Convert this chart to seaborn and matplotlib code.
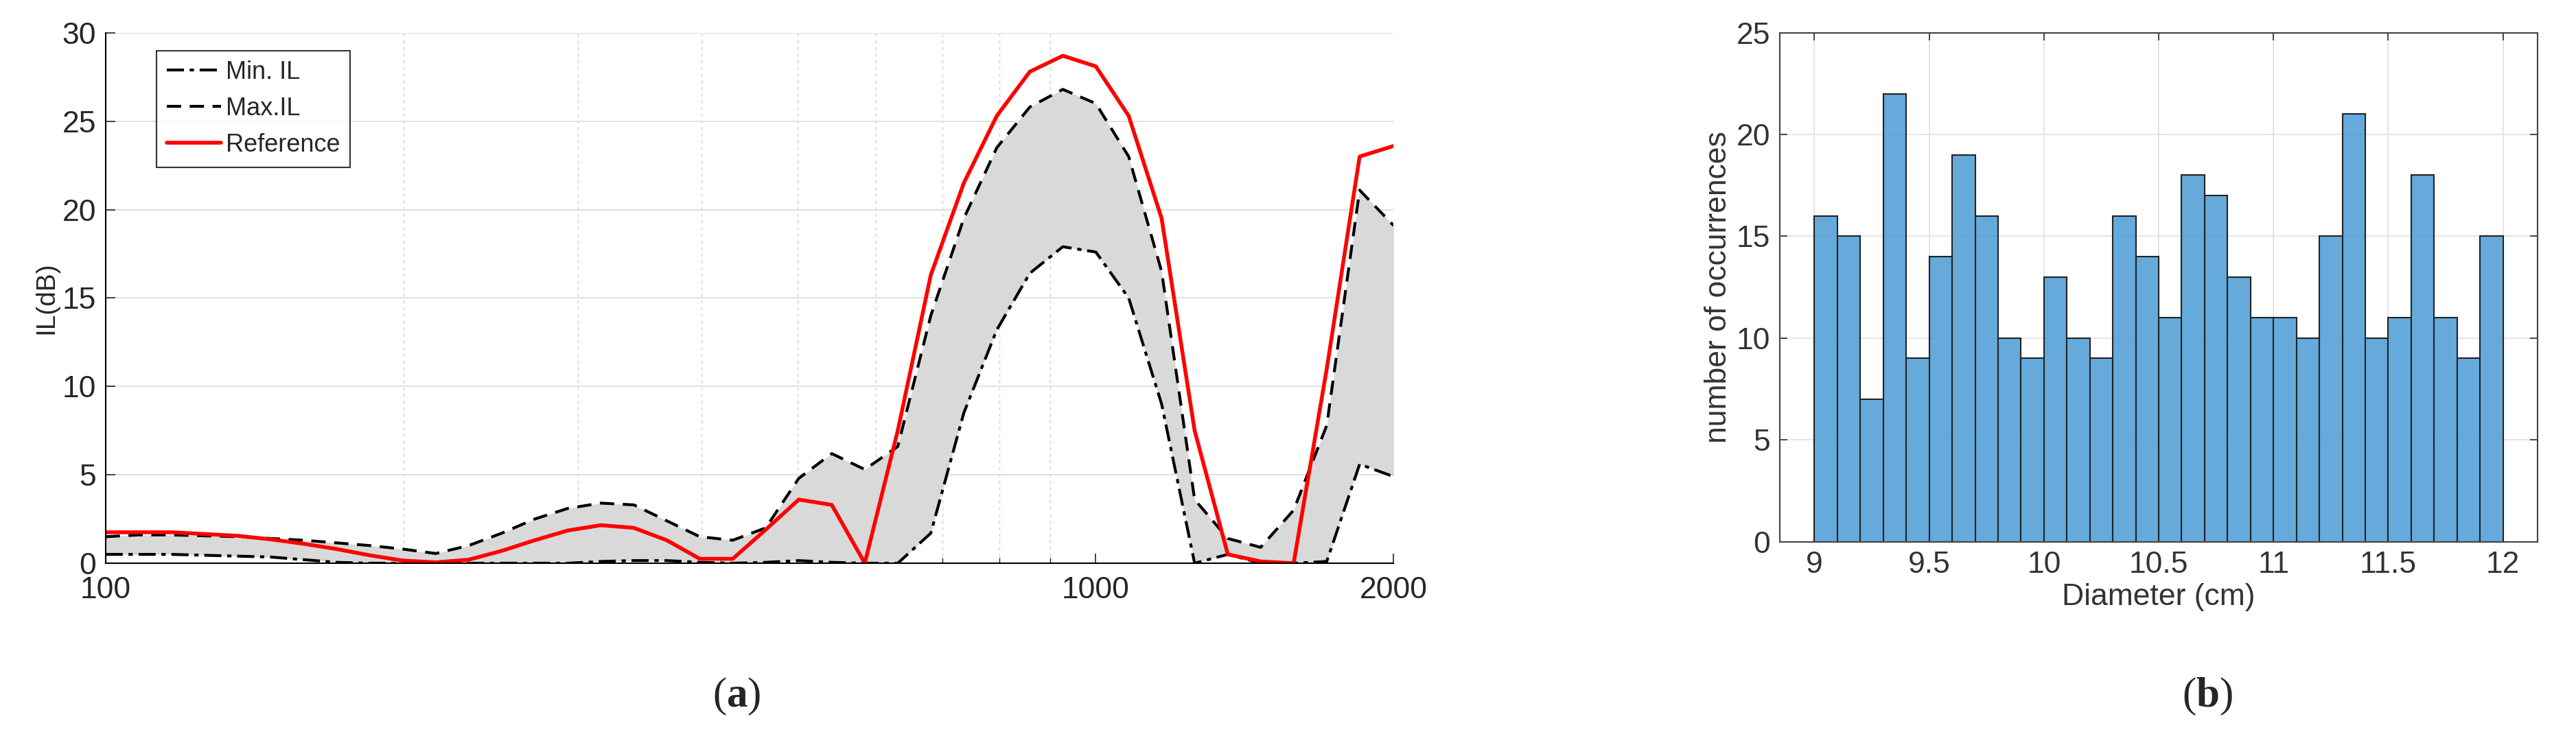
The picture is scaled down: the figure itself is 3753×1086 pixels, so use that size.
import numpy as np
import pandas as pd
import matplotlib
matplotlib.use("Agg")
import matplotlib.pyplot as plt
import seaborn as sns
from matplotlib.ticker import FixedLocator, NullFormatter, LogLocator

freq = [100, 108, 116.6, 125.9, 136, 146.8, 158.5, 171.2, 184.8, 199.6, 215.5, 232.7,
        251.3, 271.3, 293, 316.4, 341.6, 368.8, 398.3, 430, 464.3, 501.4, 541.4, 584.6,
        631.2, 681.6, 736, 794.7, 858.1, 926.6, 1000.5, 1080, 1166, 1259, 1360, 1468,
        1585, 1712, 1848, 2000]
il_ref = [1.75, 1.75, 1.75, 1.65, 1.55, 1.35, 1.1, 0.8, 0.45, 0.15, 0.05, 0.2, 0.7, 1.3,
          1.85, 2.15, 2.0, 1.3, 0.25, 0.25, 1.9, 3.6, 3.3, 0.0, 7.5, 16.3, 21.5, 25.3,
          27.8, 28.7, 28.1, 25.3, 19.5, 7.5, 0.5, 0.1, 0.0, 11.0, 23.0, 23.6]
il_max = [1.5, 1.6, 1.6, 1.55, 1.5, 1.4, 1.3, 1.15, 1.0, 0.8, 0.55, 1.0, 1.7, 2.5, 3.1,
          3.4, 3.3, 2.4, 1.5, 1.3, 2.0, 4.8, 6.2, 5.3, 6.6, 14.0, 19.5, 23.5, 25.8, 26.8,
          26.0, 23.0, 16.5, 3.6, 1.4, 0.9, 3.0, 7.8, 21.1, 19.1]
il_min = [0.5, 0.5, 0.5, 0.45, 0.4, 0.35, 0.2, 0.05, 0, 0, 0, 0, 0, 0, 0, 0.1, 0.15,
          0.15, 0.05, 0, 0.05, 0.15, 0.05, 0, 0, 1.7, 8.5, 13.2, 16.4, 17.9, 17.6, 15.0,
          9.0, 0, 0.5, 0, 0, 0.1, 5.6, 4.9]

bin_edges = [round(9 + 0.1 * i, 1) for i in range(31)]
counts = [16, 15, 7, 22, 9, 14, 19, 16, 10, 9, 13, 10, 9, 16, 14, 11, 18, 17, 13, 11,
          11, 10, 15, 21, 10, 11, 18, 11, 9, 15]
centers = [(bin_edges[i] + bin_edges[i + 1]) / 2 for i in range(30)]

sns.set_theme(style="white")
plt.rcParams['font.family'] = ['Liberation Sans Narrow', 'Liberation Sans', 'DejaVu Sans']
plt.rcParams['mathtext.fontset'] = 'custom'
plt.rcParams['mathtext.rm'] = 'Liberation Serif'
plt.rcParams['mathtext.bf'] = 'Liberation Serif:bold'

fig = plt.figure(figsize=(37.53, 10.86), dpi=100)
ax1 = fig.add_axes([0.041, 0.244, 0.500, 0.712])
ax2 = fig.add_axes([0.691, 0.273, 0.294, 0.683])

# ---- left panel
df = pd.DataFrame({"f": freq, "mn": il_min, "mx": il_max, "ref": il_ref})
ax1.fill_between(df["f"], df["mn"], df["mx"], color="#d9d9d9", lw=0)
sns.lineplot(data=df, x="f", y="mn", ax=ax1, color="black", lw=3, label="Min. IL")
ax1.lines[-1].set_dashes([6, 2, 1.5, 2])
sns.lineplot(data=df, x="f", y="mx", ax=ax1, color="black", lw=3, label="Max.IL")
ax1.lines[-1].set_dashes([5, 3])
sns.lineplot(data=df, x="f", y="ref", ax=ax1, color="red", lw=4, label="Reference")
ax1.set_xscale("log")
ax1.set_xlim(100, 2000)
ax1.set_ylim(0, 30)
ax1.set_yticks([0, 5, 10, 15, 20, 25, 30])
ax1.xaxis.set_major_locator(FixedLocator([100, 1000, 2000]))
ax1.set_xticklabels(["100", "1000", "2000"])
ax1.xaxis.set_minor_locator(LogLocator(base=10, subs=np.arange(2, 10)))
ax1.xaxis.set_minor_formatter(NullFormatter())
ax1.grid(True, which="major", axis="y", color="#dcdcdc", lw=1.2)
ax1.grid(True, which="minor", axis="x", color="#cccccc", lw=1.0, ls=(0, (3, 4)))
ax1.tick_params(axis="both", which="major", labelsize=32, length=10, width=1.2,
                direction="in", left=True, bottom=True)
ax1.tick_params(axis="x", which="major", pad=14)
ax1.tick_params(axis="y", which="major", pad=10)
ax1.tick_params(axis="x", which="minor", length=6, direction="in", bottom=True)
ax1.set_xlabel("")
ax1.set_ylabel("IL(dB)", fontsize=28, family=["Liberation Sans", "DejaVu Sans"], labelpad=4)
for s in ["top", "right"]:
    ax1.spines[s].set_visible(False)
for s in ["left", "bottom"]:
    ax1.spines[s].set_color("black")
    ax1.spines[s].set_linewidth(1.5)
leg = ax1.legend(loc="upper left", bbox_to_anchor=(0.03, 0.99), fontsize=26,
                 frameon=True, fancybox=False, edgecolor="black", handlelength=2.2,
                 borderpad=0.4, labelspacing=0.5, handletextpad=0.2)
leg.get_frame().set_linewidth(1.5)

# ---- right panel
sns.histplot(x=centers, weights=counts, bins=bin_edges, ax=ax2, color="#4a9bd5",
             alpha=0.85, edgecolor="#222222", linewidth=1.5)
ax2.set_xlim(8.85, 12.15)
ax2.set_ylim(0, 25)
ax2.set_xticks([9, 9.5, 10, 10.5, 11, 11.5, 12])
ax2.set_xticklabels(["9", "9.5", "10", "10.5", "11", "11.5", "12"])
ax2.set_yticks([0, 5, 10, 15, 20, 25])
ax2.set_axisbelow(True)
ax2.grid(True, color="#e0e0e0", lw=1.2)
ax2.tick_params(axis="both", labelsize=32, length=8, direction="in", colors="#333333",
                top=True, right=True, left=True, bottom=True, pad=10)
for lab in ax2.get_xticklabels() + ax2.get_yticklabels():
    lab.set_family(["Liberation Sans", "DejaVu Sans"])
ax2.set_xlabel("Diameter (cm)", fontsize=32, color="#333333",
               family=["Liberation Sans", "DejaVu Sans"])
ax2.set_ylabel("number of occurrences", fontsize=32, color="#333333",
               family=["Liberation Sans", "DejaVu Sans"])
for s in ax2.spines.values():
    s.set_visible(True)
    s.set_color("#444444")
    s.set_linewidth(1.5)

fig.text(0.286, 0.065, r"$(\mathbf{a})$", fontsize=44, ha="center", va="center")
fig.text(0.857, 0.065, r"$(\mathbf{b})$", fontsize=44, ha="center", va="center")

fig.savefig("out.png", dpi=100, facecolor="white")
